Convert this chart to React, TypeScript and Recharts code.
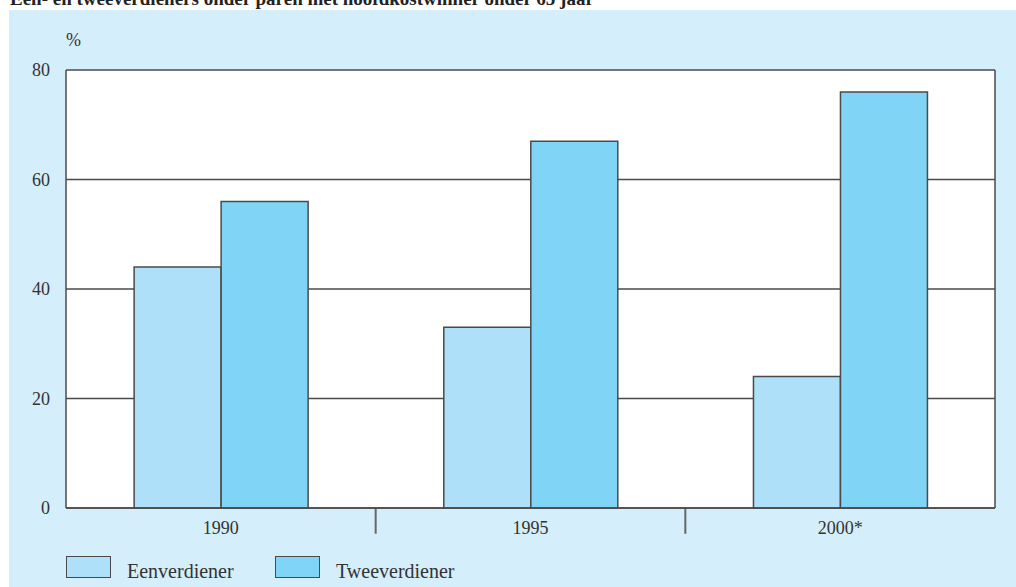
import { Bar, BarChart, CartesianGrid, Legend, ReferenceLine, XAxis, YAxis } from "recharts";

const years = ["1990", "1995", "2000*"];
const eenverdiener = [44, 33, 24];
const tweeverdiener = [56, 67, 76];
const yTicks = [0, 20, 40, 60, 80];

const seriesNames = ["Eenverdiener", "Tweeverdiener"];
const seriesColors = ["#aee0f9", "#80d4f6"];

const chartData = years.map((year, i) => ({
    year,
    een: eenverdiener[i],
    twee: tweeverdiener[i],
}));

// a short divider under the axis at the right edge of every group but the last
const separators = years.slice(0, -1);

const font = "'Liberation Serif', 'Times New Roman', serif";
const lineColor = "#4a4a4a";

function LegendBoxes({ payload }: any) {
    return (
        <div style={{ display: "flex", fontFamily: font, fontSize: 20, color: "#333", height: 30, alignItems: "center" }}>
            {(payload || []).map((item: any) => (
                <div key={item.value} style={{ display: "flex", alignItems: "center", width: 209 }}>
                    <span style={{
                        display: "inline-block",
                        width: 43,
                        height: 20,
                        background: item.color,
                        border: `1.5px solid ${lineColor}`,
                        marginRight: 16,
                    }} />
                    <span style={{ position: "relative", top: 4 }}>{item.value}</span>
                </div>
            ))}
        </div>
    );
}

export default function App() {
    return (
        <div style={{ position: "absolute", left: 0, top: 0, width: 1016, height: 587, overflow: "hidden", background: "#fff" }}>
            <div style={{
                position: "absolute", left: 10, top: -11, fontFamily: font, fontWeight: "bold",
                fontSize: 19, lineHeight: "19px", color: "#222", whiteSpace: "nowrap",
            }}>
                Een- en tweeverdieners onder paren met hoofdkostwinner onder 65 jaar
            </div>
            <div style={{ position: "absolute", left: 9, top: 10, width: 1007, height: 577, background: "#d5eefb" }}>
                <div style={{ position: "absolute", left: 57, top: 20, fontFamily: font, fontSize: 18, color: "#333" }}>%</div>
                <BarChart
                    width={1007}
                    height={577}
                    data={chartData}
                    margin={{ top: 60, right: 0, bottom: 9, left: 0 }}
                    barCategoryGap="22%"
                    barGap={0}
                >
                    <CartesianGrid vertical={false} stroke={lineColor} strokeWidth={1.3} fill="#ffffff" />
                    <XAxis
                        dataKey="year"
                        height={40}
                        tickLine={false}
                        tickSize={0}
                        tickMargin={13}
                        axisLine={{ stroke: lineColor, strokeWidth: 1.5 }}
                        tick={{ fontFamily: font, fontSize: 18, fill: "#333" }}
                    />
                    <YAxis
                        width={57}
                        domain={[0, 80]}
                        ticks={yTicks}
                        tickLine={false}
                        tickSize={0}
                        tickMargin={16}
                        axisLine={{ stroke: lineColor, strokeWidth: 1.5 }}
                        tick={{ fontFamily: font, fontSize: 18, fill: "#333" }}
                    />
                    <YAxis
                        yAxisId="right"
                        orientation="right"
                        width={21}
                        domain={[0, 80]}
                        tick={false}
                        tickLine={false}
                        axisLine={{ stroke: lineColor, strokeWidth: 1.5 }}
                    />
                    {separators.map((s) => (
                        <ReferenceLine
                            key={s}
                            segment={[{ x: s, y: 0 }, { x: s, y: -4.7 }]}
                            position="end"
                            ifOverflow="visible"
                            stroke="#666"
                            strokeWidth={2}
                        />
                    ))}
                    <Bar dataKey="een" name={seriesNames[0]} fill={seriesColors[0]} stroke={lineColor} strokeWidth={1.5} isAnimationActive={false} />
                    <Bar dataKey="twee" name={seriesNames[1]} fill={seriesColors[1]} stroke={lineColor} strokeWidth={1.5} isAnimationActive={false} />
                    <Legend
                        content={<LegendBoxes />}
                        verticalAlign="bottom"
                        align="left"
                        wrapperStyle={{ left: 57, bottom: 5, width: 600 }}
                    />
                </BarChart>
            </div>
        </div>
    );
}
